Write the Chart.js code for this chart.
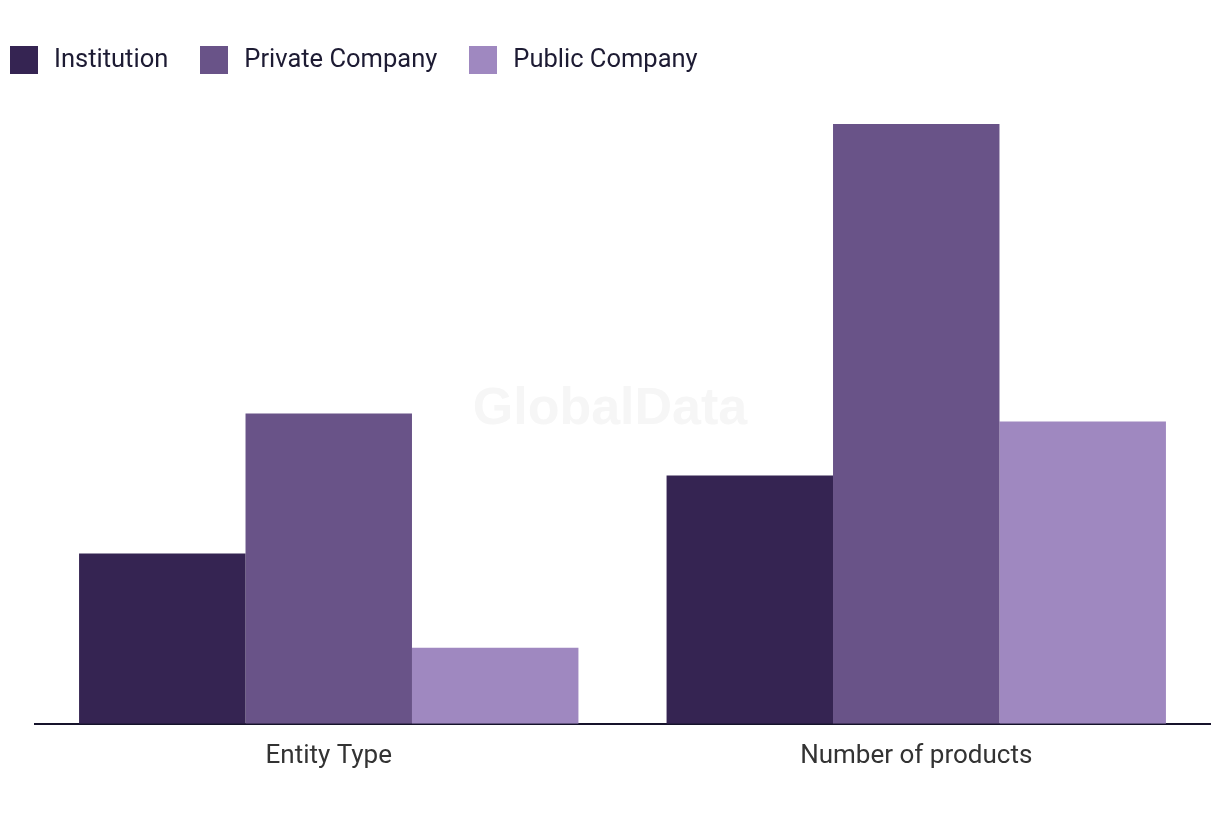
<!DOCTYPE html>
<html>
<head>
<meta charset="utf-8">
<script src="https://cdn.jsdelivr.net/npm/chart.js@4/dist/chart.umd.min.js"></script>
<style>
    html, body { margin: 0; padding: 0; background: #fff; }
    #wrap { position: relative; width: 1220px; height: 820px; }
    #legend {
        position: absolute; left: 10px; top: 45px;
        display: flex; align-items: center;
        font-family: Roboto, "Noto Sans", sans-serif; font-size: 25.5px; color: #1d1b33;
    }
    .item { display: flex; align-items: center; margin-right: 32px; }
    .item span { position: relative; top: -2px; }
    .box { width: 28px; height: 28px; margin-right: 16px; }
</style>
</head>
<body>
<div id="wrap">
    <canvas id="chart" width="1220" height="820"></canvas>
    <div id="legend"></div>
</div>
<script>
// Данные графика
const categories = ['Entity Type', 'Number of products'];
const seriesNames = ['Institution', 'Private Company', 'Public Company'];
const institution = [170, 248];
const privateCompany = [310, 599];
const publicCompany = [76, 302];
const colors = ['#352452', '#695388', '#9f88c0'];

const seriesData = [institution, privateCompany, publicCompany];

// Легенда сверху слева
const legend = document.getElementById('legend');
seriesNames.forEach((name, i) => {
    const item = document.createElement('div');
    item.className = 'item';
    item.innerHTML = `<div class="box" style="background:${colors[i]}"></div><span>${name}</span>`;
    legend.appendChild(item);
});

// Водяной знак
const watermark = {
    id: 'watermark',
    beforeDatasetsDraw(chart) {
        const ctx = chart.ctx;
        ctx.save();
        ctx.font = 'bold 52px "Liberation Sans", Arial, sans-serif';
        ctx.fillStyle = '#f6f6f6';
        ctx.textAlign = 'center';
        ctx.textBaseline = 'middle';
        ctx.fillText('GlobalData', 610, 410);
        ctx.restore();
    }
};

const ctx = document.getElementById('chart').getContext('2d');
new Chart(ctx, {
    type: 'bar',
    data: {
        labels: categories,
        datasets: seriesNames.map((name, i) => ({
            label: name,
            data: seriesData[i],
            backgroundColor: colors[i],
            borderWidth: 0,
            categoryPercentage: 0.85,
            barPercentage: 1.0
        }))
    },
    options: {
        responsive: false,
        animation: false,
        layout: {
            padding: { left: 35, right: 10, top: 100, bottom: 31 }
        },
        plugins: {
            legend: { display: false },
            tooltip: { enabled: false }
        },
        scales: {
            x: {
                grid: { display: false, drawTicks: false },
                border: { display: true, color: '#16132b', width: 2 },
                ticks: {
                    padding: 17,
                    color: '#333333',
                    font: { family: 'Roboto, "Noto Sans", sans-serif', size: 26 }
                }
            },
            y: {
                display: false,
                min: 0,
                max: 623
            }
        }
    },
    plugins: [watermark]
});
</script>
</body>
</html>
